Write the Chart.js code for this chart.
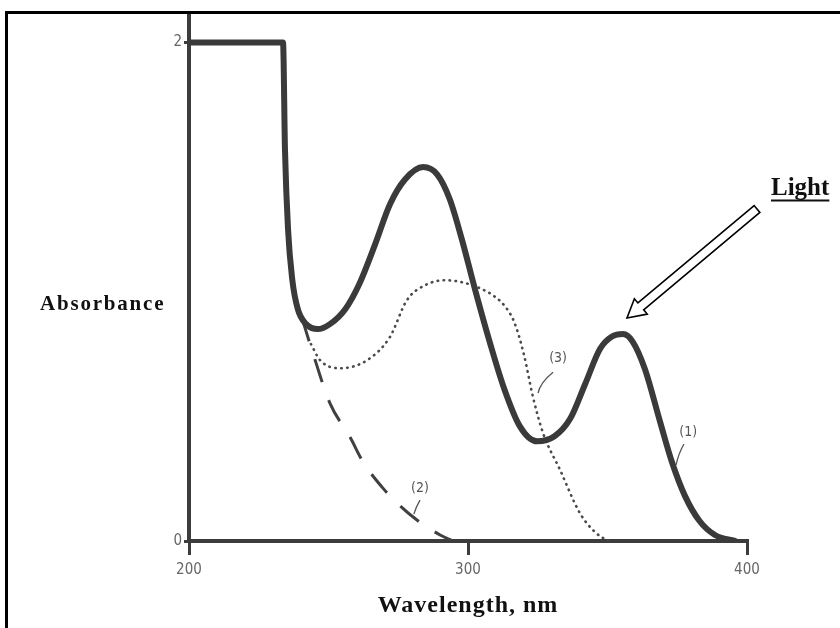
<!DOCTYPE html>
<html>
<head>
<meta charset="utf-8">
<script src="https://cdn.jsdelivr.net/npm/chart.js@4/dist/chart.umd.min.js"></script>
<style>
  html, body { margin: 0; padding: 0; background: #fff; }
  #wrap { width: 840px; height: 628px; position: relative; }
</style>
</head>
<body>
<div id="wrap"><canvas id="c" width="840" height="628"></canvas></div>
<script>
// ---- data (wavelength in nm, absorbance) ----
const xTicks = [200, 300, 400];
const yTicks = [0, 2];

const wl1 = [200, 233.7, 234.4, 235.5, 237, 239, 242, 246.2, 250.5, 256, 261, 266.7, 272, 277.4, 283.9, 289, 293.5, 297.8, 302.5, 308, 313, 318.6, 324.7, 331, 336.6, 342, 347.3, 351.6, 355.6, 359, 363.4, 368.8, 373, 377.8, 383, 388.5, 395.7];
const abs1 = [2.0, 2.0, 1.57, 1.25, 1.05, 0.93, 0.87, 0.85, 0.87, 0.93, 1.03, 1.19, 1.35, 1.45, 1.50, 1.47, 1.37, 1.21, 1.01, 0.79, 0.61, 0.46, 0.40, 0.42, 0.49, 0.63, 0.77, 0.82, 0.83, 0.80, 0.69, 0.48, 0.32, 0.18, 0.08, 0.024, 0.0];

const wl2 = [240.5, 244.4, 250.5, 257.7, 262.4, 269.2, 274.6, 281.7, 290, 294.6];
const abs2 = [0.894, 0.754, 0.553, 0.417, 0.317, 0.216, 0.152, 0.084, 0.024, 0.0];

const wl3 = [243.7, 247, 254.1, 263.8, 272, 278.1, 284.6, 291.8, 297.8, 304.3, 309, 313, 316.5, 320, 323.3, 326.9, 333, 340.1, 345.5, 350.2];
const abs3 = [0.79, 0.725, 0.693, 0.725, 0.818, 0.966, 1.026, 1.046, 1.038, 1.014, 0.985, 0.945, 0.88, 0.75, 0.577, 0.433, 0.285, 0.112, 0.036, 0.0];

const curveLabels = ['(1)', '(2)', '(3)'];
const curveLabelWl = [378.9, 282.8, 332.3];
const curveLabelAbs = [0.437, 0.212, 0.733];
const leaderFrom = [[377.4, 0.389], [282.8, 0.164], [330.5, 0.677]];
const leaderTo = [[374.6, 0.305], [280.6, 0.108], [325.1, 0.593]];

const xTitle = 'Wavelength, nm';
const yTitle = 'Absorbance';
const noteText = 'Light';

const pts = (xs, ys) => xs.map((x, i) => ({ x: x, y: ys[i] }));

const AX = '#3c3c3c';
const tickFont = { family: "'DejaVu Sans Condensed', 'DejaVu Sans', sans-serif", size: 15 };

const decor = {
  id: 'decor',
  afterDraw(chart) {
    const ctx = chart.ctx;
    const xs = chart.scales.x, ys = chart.scales.y;
    ctx.save();
    // outer frame (top and left)
    ctx.strokeStyle = '#000';
    ctx.lineWidth = 3;
    ctx.beginPath();
    ctx.moveTo(6.5, 628);
    ctx.lineTo(6.5, 12.5);
    ctx.lineTo(840, 12.5);
    ctx.stroke();

    // curve labels and leaders
    ctx.fillStyle = '#555';
    ctx.strokeStyle = '#555';
    ctx.lineWidth = 1.3;
    ctx.font = "14px 'DejaVu Sans Condensed', 'DejaVu Sans', sans-serif";
    ctx.textAlign = 'center';
    ctx.textBaseline = 'middle';
    curveLabels.forEach((t, i) => {
      ctx.fillText(t, xs.getPixelForValue(curveLabelWl[i]), ys.getPixelForValue(curveLabelAbs[i]));
      ctx.beginPath();
      ctx.moveTo(xs.getPixelForValue(leaderFrom[i][0]), ys.getPixelForValue(leaderFrom[i][1]));
      ctx.quadraticCurveTo(
        xs.getPixelForValue(leaderTo[i][0]) + 2, ys.getPixelForValue((leaderFrom[i][1] + leaderTo[i][1]) / 2),
        xs.getPixelForValue(leaderTo[i][0]), ys.getPixelForValue(leaderTo[i][1]));
      ctx.stroke();
    });

    // axis titles
    ctx.fillStyle = '#111';
    ctx.textAlign = 'left';
    ctx.font = "bold 24px 'Liberation Serif', 'DejaVu Serif', serif";
    ctx.letterSpacing = '1px';
    let w = ctx.measureText(xTitle).width;
    ctx.fillText(xTitle, (xs.left + xs.right) / 2 - w / 2, 606);
    ctx.font = "bold 21px 'Liberation Serif', 'DejaVu Serif', serif";
    ctx.letterSpacing = '1.8px';
    ctx.fillText(yTitle, 40, 305);
    ctx.letterSpacing = '0px';

    // "Light" note, underlined
    ctx.font = "bold 25px 'Liberation Serif', 'DejaVu Serif', serif";
    ctx.textAlign = 'left';
    ctx.textBaseline = 'alphabetic';
    const lw = ctx.measureText(noteText).width;
    ctx.fillText(noteText, 771, 195);
    ctx.lineWidth = 1.8;
    ctx.strokeStyle = '#111';
    ctx.beginPath();
    ctx.moveTo(771, 200.5);
    ctx.lineTo(771 + lw, 200.5);
    ctx.stroke();

    // hollow arrow pointing to the long-wavelength band
    const x0 = 757, y0 = 209, x1 = 627, y1 = 318;
    const ang = Math.atan2(y1 - y0, x1 - x0);
    const len = Math.hypot(x1 - x0, y1 - y0);
    const hw = 4.5, headW = 10, headL = 18;
    ctx.translate(x0, y0);
    ctx.rotate(ang);
    ctx.beginPath();
    ctx.moveTo(0, -hw);
    ctx.lineTo(len - headL, -hw);
    ctx.lineTo(len - headL, -headW);
    ctx.lineTo(len, 0);
    ctx.lineTo(len - headL, headW);
    ctx.lineTo(len - headL, hw);
    ctx.lineTo(0, hw);
    ctx.closePath();
    ctx.fillStyle = '#fff';
    ctx.fill();
    ctx.strokeStyle = '#000';
    ctx.lineWidth = 1.6;
    ctx.stroke();
    ctx.restore();
  }
};

new Chart(document.getElementById('c'), {
  type: 'line',
  data: {
    datasets: [
      { label: '(1)', data: pts(wl1, abs1), borderColor: '#3a3a3a', borderWidth: 6, pointRadius: 0, cubicInterpolationMode: 'monotone', fill: false, borderCapStyle: 'round', borderJoinStyle: 'round' },
      { label: '(2)', data: pts(wl2, abs2), borderColor: '#404040', borderWidth: 3, borderDash: [24, 19], pointRadius: 0, cubicInterpolationMode: 'monotone', fill: false },
      { label: '(3)', data: pts(wl3, abs3), borderColor: '#4a4a4a', borderWidth: 2.6, borderDash: [0.5, 5.5], borderCapStyle: 'round', pointRadius: 0, cubicInterpolationMode: 'monotone', fill: false }
    ]
  },
  options: {
    responsive: false,
    animation: false,
    devicePixelRatio: 1,
    layout: { padding: { left: 0, top: 15, right: 93, bottom: 0 } },
    plugins: { legend: { display: false }, tooltip: { enabled: false } },
    scales: {
      x: {
        type: 'linear', min: 200, max: 400,
        afterBuildTicks: s => { s.ticks = xTicks.map(v => ({ value: v })); },
        afterFit: s => { s.height = 87; },
        ticks: { color: '#666', font: tickFont, padding: 6, autoSkip: false, maxRotation: 0 },
        grid: { drawOnChartArea: false, drawTicks: true, tickLength: 14, lineWidth: 3, color: AX },
        border: { display: true, width: 4, color: AX }
      },
      y: {
        type: 'linear', min: 0, max: 2.11,
        afterBuildTicks: s => { s.ticks = yTicks.map(v => ({ value: v })); },
        afterFit: s => { s.width = 189; },
        ticks: { color: '#666', font: tickFont, padding: 2 },
        grid: { drawOnChartArea: false, drawTicks: true, tickLength: 5, lineWidth: 3, color: AX },
        border: { display: true, width: 4, color: AX }
      }
    }
  },
  plugins: [decor]
});
</script>
</body>
</html>
